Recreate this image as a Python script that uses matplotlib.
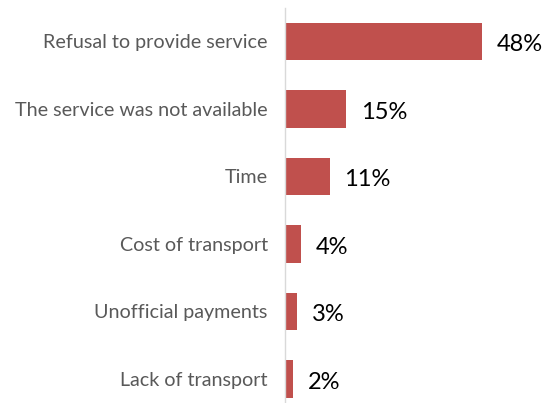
import matplotlib.pyplot as plt

categories = ["Refusal to provide service", "The service was not available", "Time",
              "Cost of transport", "Unofficial payments", "Lack of transport"]
values = [48, 15, 11, 4, 3, 2]
value_labels = ["48%", "15%", "11%", "4%", "3%", "2%"]

plt.rcParams["font.family"] = ["Lato", "DejaVu Sans"]

fig = plt.figure(figsize=(5.46, 4.03), dpi=100)
# axes in pixels: left 284.5, top 7.75, bottom 403, right 546
ax = fig.add_axes([284.5 / 546, 0.0, (546 - 284.5) / 546, (403 - 7.75) / 403])

pos = range(len(categories))
ax.barh(pos, values, height=0.55, color="#C0504D", zorder=2)
ax.set_ylim(5.356, -0.5)
ax.set_xlim(0, (546 - 284.5) / 4.108)

for y, v, lab in zip(pos, values, value_labels):
    ax.text(v + 3.6, y + 0.05, lab, va="center", ha="left", fontsize=17, color="black")

ax.set_yticks(list(pos))
ax.set_yticklabels(categories, fontsize=14.2, color="#595959")
ax.tick_params(axis="y", length=0, pad=12)
ax.set_xticks([])
for s in ["top", "right", "bottom"]:
    ax.spines[s].set_visible(False)
ax.spines["left"].set_color("#D9D9D9")
ax.spines["left"].set_linewidth(1.0)

fig.savefig("out.png", dpi=100)
